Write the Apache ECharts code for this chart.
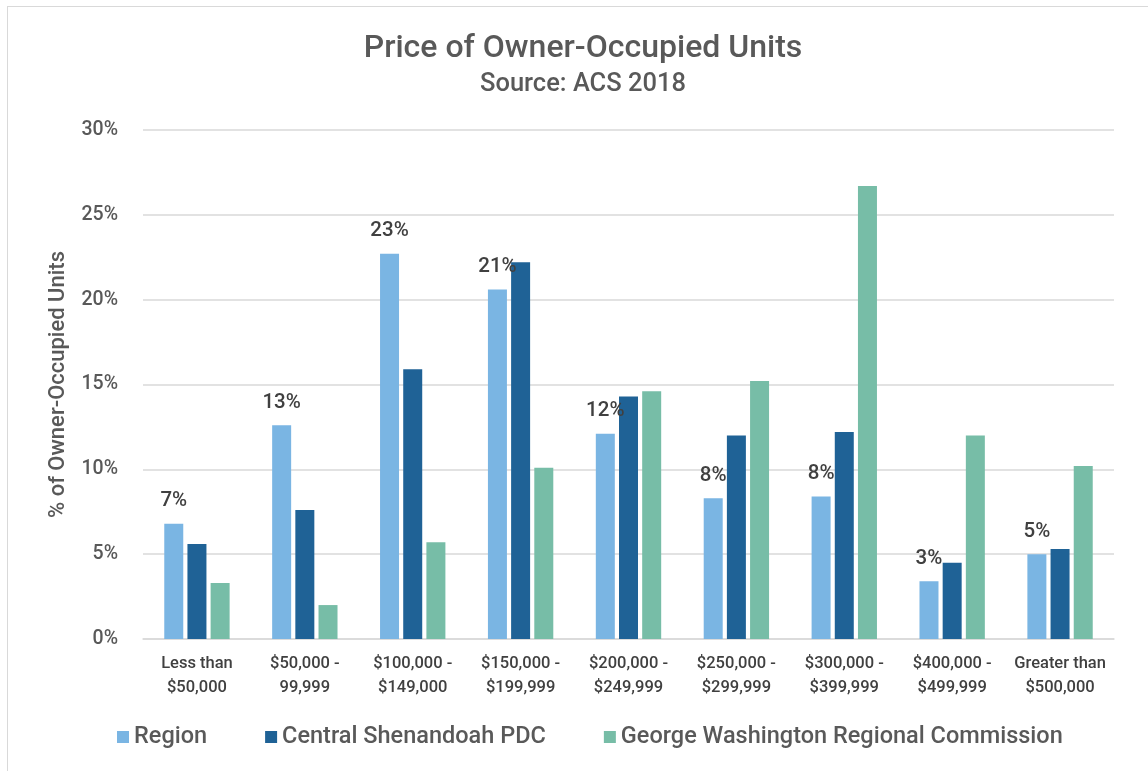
<!DOCTYPE html>
<html>
<head>
<meta charset="utf-8">
<script src="https://cdn.jsdelivr.net/npm/echarts@6/dist/echarts.min.js"></script>
<style>
html,body{margin:0;padding:0;background:#fff;overflow:hidden;}
#frame{position:absolute;left:7px;top:6px;width:1300px;height:900px;border:1.5px solid #d9d9d9;box-sizing:border-box;}
#chart{position:absolute;left:0;top:0;width:1148px;height:771px;}
</style>
</head>
<body>
<div id="frame"></div>
<div id="chart"></div>
<script>
const categories = ["Less than\n$50,000", "$50,000 -\n99,999", "$100,000 -\n$149,000", "$150,000 -\n$199,999", "$200,000 -\n$249,999", "$250,000 -\n$299,999", "$300,000 -\n$399,999", "$400,000 -\n$499,999", "Greater than\n$500,000"];
const region = [6.8, 12.6, 22.7, 20.6, 12.1, 8.3, 8.4, 3.4, 5.0];
const centralShenandoah = [5.6, 7.6, 15.9, 22.2, 14.3, 12.0, 12.2, 4.5, 5.3];
const georgeWashington = [3.3, 2.0, 5.7, 10.1, 14.6, 15.2, 26.7, 12.0, 10.2];
const yTicks = [0, 5, 10, 15, 20, 25, 30];

const FONT = 'Roboto, "DejaVu Sans", sans-serif';
const chart = echarts.init(document.getElementById('chart'));
chart.setOption({
  backgroundColor: 'transparent',
  textStyle: { fontFamily: FONT },
  title: {
    text: 'Price of Owner-Occupied Units',
    subtext: 'Source: ACS 2018',
    left: 578,
    textAlign: 'center',
    top: 28,
    itemGap: 7,
    textStyle: { fontFamily: FONT, fontSize: 32, fontWeight: 500, color: '#595959' },
    subtextStyle: { fontFamily: FONT, fontSize: 25.5, fontWeight: 500, color: '#595959' }
  },
  legend: {
    bottom: 17,
    left: 112,
    itemWidth: 12,
    itemHeight: 12,
    itemGap: 58,
    icon: 'rect',
    textStyle: { fontFamily: FONT, fontSize: 23.5, fontWeight: 500, color: '#595959' },
    data: ['Region', 'Central Shenandoah PDC', 'George Washington Regional Commission']
  },
  grid: { left: 143, right: 34, top: 130, bottom: 132 },
  xAxis: {
    type: 'category',
    data: categories,
    axisLine: { lineStyle: { color: '#d9d9d9', width: 1.5 } },
    axisTick: { show: false },
    axisLabel: { fontFamily: FONT, fontSize: 16.5, fontWeight: 500, color: '#404040', lineHeight: 24, margin: 13, interval: 0 }
  },
  yAxis: {
    type: 'value',
    min: yTicks[0],
    max: yTicks[yTicks.length - 1],
    interval: yTicks[1] - yTicks[0],
    name: '% of Owner-Occupied Units',
    nameLocation: 'middle',
    nameGap: 74,
    nameTextStyle: { fontFamily: FONT, fontSize: 22, fontWeight: 500, color: '#595959' },
    axisLine: { show: false },
    axisTick: { show: false },
    axisLabel: { formatter: '{value}%', fontFamily: FONT, fontSize: 19.5, fontWeight: 500, color: '#595959', margin: 25 },
    splitLine: { lineStyle: { color: '#d9d9d9', width: 1.5 } }
  },
  series: [
    {
      name: 'Region', type: 'bar', data: region, barWidth: 19, barGap: '22%',
      itemStyle: { color: '#7ab5e3' },
      label: {
        show: true, position: 'top', distance: 12,
        formatter: p => Math.round(p.value) + '%',
        fontFamily: FONT, fontSize: 20.5, fontWeight: 500, color: '#404040'
      }
    },
    {
      name: 'Central Shenandoah PDC', type: 'bar', data: centralShenandoah, barWidth: 19, barGap: '22%',
      itemStyle: { color: '#1f6296' }
    },
    {
      name: 'George Washington Regional Commission', type: 'bar', data: georgeWashington, barWidth: 19, barGap: '22%',
      itemStyle: { color: '#77bda7' }
    }
  ]
});
</script>
</body>
</html>
